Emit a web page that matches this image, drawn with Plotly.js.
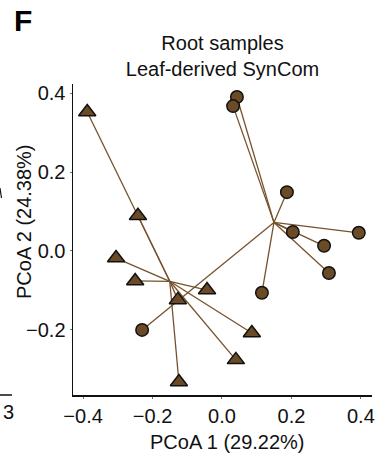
<!DOCTYPE html>
<html>
<head>
<meta charset="utf-8">
<script src="https://cdn.plot.ly/plotly-3.0.1.min.js"></script>
<style>
  html, body { margin: 0; padding: 0; background: #ffffff; }
  #chart { width: 380px; height: 454px; }
</style>
</head>
<body>
<div id="chart"></div>
<script>
// PCoA ordination of root samples, leaf-derived SynCom
const groupNames = ['Triangle group', 'Circle group'];

// Group 1 samples (triangles)
const triX = [-0.388, -0.242, -0.305, -0.250, -0.127, -0.043, 0.086, 0.040, -0.124];
const triY = [0.352, 0.089, -0.018, -0.076, -0.124, -0.099, -0.208, -0.276, -0.332];

// Group 2 samples (circles)
const circX = [-0.230, 0.043, 0.032, 0.187, 0.204, 0.394, 0.294, 0.308, 0.115];
const circY = [-0.200, 0.390, 0.367, 0.149, 0.048, 0.046, 0.013, -0.056, -0.106];

// Axis ticks
const tickVals = [-0.4, -0.2, 0.0, 0.2, 0.4];
const tickText = ['\u22120.4', '\u22120.2', '0.0', '0.2', '0.4'];
const yTickVals = [-0.2, 0.0, 0.2, 0.4];
const yTickText = ['\u22120.2', '0.0', '0.2', '0.4'];

const brown = '#6b4a26';
const spokeColor = '#76522c';
const font = 'Liberation Sans, Arial, Helvetica, sans-serif';

function mean(a) { return a.reduce((s, v) => s + v, 0) / a.length; }

// Spokes from every sample to its group centroid
function spokes(xs, ys) {
  const cx = mean(xs), cy = mean(ys);
  const sx = [], sy = [];
  xs.forEach((x, i) => { sx.push(x, cx, null); sy.push(ys[i], cy, null); });
  return { x: sx, y: sy };
}

const triSp = spokes(triX, triY);
const circSp = spokes(circX, circY);

const traces = [
  { type: 'scatter', mode: 'lines', x: triSp.x, y: triSp.y, hoverinfo: 'skip',
    line: { color: spokeColor, width: 1.3 }, showlegend: false },
  { type: 'scatter', mode: 'lines', x: circSp.x, y: circSp.y, hoverinfo: 'skip',
    line: { color: spokeColor, width: 1.3 }, showlegend: false },
  { type: 'scatter', mode: 'markers', name: groupNames[1], x: circX, y: circY,
    marker: { symbol: 'circle', size: 12.5, color: brown, line: { color: '#111111', width: 1.5 } },
    showlegend: false },
  { type: 'scatter', mode: 'markers', name: groupNames[0], x: triX, y: triY,
    marker: { symbol: 'triangle-up', size: 15, color: brown, line: { color: '#111111', width: 1.5 } },
    showlegend: false }
];

const W = 380, H = 454;
const M = { l: 73, r: 8, t: 84, b: 59 };
const plotW = W - M.l - M.r, plotH = H - M.t - M.b;
// pixel position -> paper fraction (paper spans the plot area)
const px = v => (v - M.l) / plotW;
const py = v => (H - M.b - v) / plotH;

const layout = {
  width: W, height: H,
  margin: { l: M.l, r: M.r, t: M.t, b: M.b, pad: 0 },
  paper_bgcolor: '#ffffff', plot_bgcolor: '#ffffff',
  font: { family: font, color: '#111111', size: 20 },
  showlegend: false,
  title: {
    text: 'Root samples<br>Leaf-derived SynCom',
    font: { family: font, size: 20, color: '#111111' },
    x: 0.5, xref: 'paper', xanchor: 'center',
    y: 1 - 49.5 / H, yref: 'container', yanchor: 'middle'
  },
  xaxis: {
    range: [-0.429, 0.432],
    tickvals: tickVals, ticktext: tickText,
    showgrid: false, zeroline: false,
    showline: true, linecolor: '#111111', linewidth: 1.5,
    ticks: 'outside', ticklen: 2, tickcolor: '#3f8f66', tickwidth: 1,
    tickfont: { family: font, size: 20, color: '#111111' }
  },
  yaxis: {
    range: [-0.365, 0.423],
    tickvals: yTickVals, ticktext: yTickText,
    showgrid: false, zeroline: false,
    showline: true, linecolor: '#111111', linewidth: 1.5,
    ticks: 'outside', ticklen: 2, tickcolor: '#3f8f66', tickwidth: 1,
    tickfont: { family: font, size: 20, color: '#111111' }
  },
  annotations: [
    { text: '<b>F</b>', xref: 'paper', yref: 'paper', showarrow: false,
      x: px(23), y: py(20), xanchor: 'center', yanchor: 'middle',
      font: { family: font, size: 30, color: '#000000' } },
    { text: 'PCoA 1 (29.22%)', xref: 'paper', yref: 'paper', showarrow: false,
      x: px(227), y: py(442), xanchor: 'center', yanchor: 'middle',
      font: { family: font, size: 20, color: '#111111' } },
    { text: 'PCoA 2 (24.38%)', xref: 'paper', yref: 'paper', showarrow: false,
      x: px(24), y: py(222), xanchor: 'center', yanchor: 'middle', textangle: -90,
      font: { family: font, size: 20, color: '#111111' } },
    { text: '3', xref: 'paper', yref: 'paper', showarrow: false,
      x: px(8), y: py(412), xanchor: 'center', yanchor: 'middle',
      font: { family: font, size: 20, color: '#111111' } }
  ],
  shapes: [
    { type: 'line', xref: 'paper', yref: 'paper',
      x0: px(0), x1: px(12), y0: py(395), y1: py(395),
      line: { color: '#111111', width: 1.5 } },
    { type: 'line', xref: 'paper', yref: 'paper',
      x0: px(0), x1: px(1.5), y0: py(188), y1: py(198),
      line: { color: '#111111', width: 1.2 } }
  ]
};

Plotly.newPlot('chart', traces, layout, { displayModeBar: false, staticPlot: true });
</script>
</body>
</html>
